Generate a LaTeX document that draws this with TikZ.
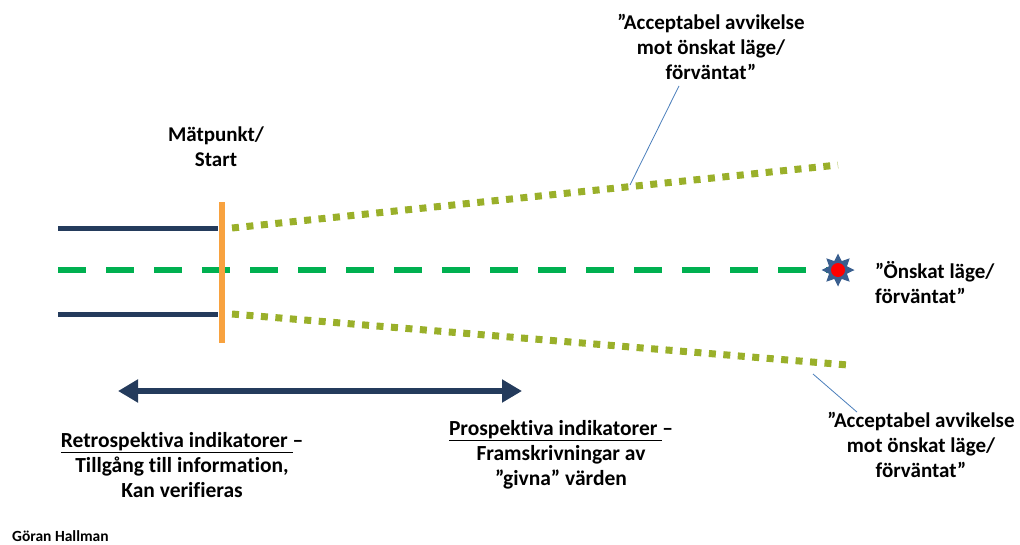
\documentclass[tikz,border=0pt]{standalone}
\usepackage{fontspec}
\setmainfont{Carlito}[Ligatures=NoCommon]
\usetikzlibrary{arrows.meta,shapes.geometric,calc}
\definecolor{navy}{HTML}{243B5C}
\definecolor{orng}{HTML}{F8A23F}
\definecolor{grn}{HTML}{00B050}
\definecolor{olive}{HTML}{9AB02A}
\definecolor{callout}{HTML}{4A7EBB}
\definecolor{starblue}{HTML}{3A5F8F}
\tikzset{
  lbl/.style={font=\fontsize{21}{25}\selectfont\bfseries, align=center, inner sep=0pt},
  lblb/.style={font=\fontsize{21.5}{25}\selectfont\bfseries, align=center, inner sep=0pt},
  solidline/.style={navy, line width=5pt},
  dotline/.style={olive, line width=7pt, dash pattern=on 7pt off 7.5pt},
  calloutline/.style={callout, line width=0.8pt},
}
\begin{document}
\begin{tikzpicture}[x=1pt,y=-1pt]
\useasboundingbox (0,0) rectangle (1020,544);
% solid lines
\coordinate (t0) at (58,228); \coordinate (t1) at (218,228);
\coordinate (b0) at (58,314); \coordinate (b1) at (218,314);
\draw[solidline] (t0) -- (t1);
\draw[solidline] (b0) -- (b1);
% green dashed
\coordinate (g0) at (58,270); \coordinate (g1) at (828,270);
\draw[grn, line width=6pt, dash pattern=on 28pt off 20pt] (g0) -- (g1);
% orange
\coordinate (o0) at (222,202); \coordinate (o1) at (222,343);
\draw[orng, line width=6pt] (o0) -- (o1);
% dotted
\coordinate (u0) at (232,228); \coordinate (u1) at (838,165);
\coordinate (l0) at (232,314); \coordinate (l1) at (848,365);
\draw[dotline] (u0) -- (u1);
\draw[dotline] (l0) -- (l1);
% star
\node[star, star points=8, star point ratio=1.7, minimum size=33pt, fill=starblue, inner sep=0pt] (star) at (838,270) {};
\node[circle, fill=red, minimum size=14pt, inner sep=0pt] (dot) at (838,270) {};
% double arrow
\coordinate (a0) at (118,391); \coordinate (a1) at (522,391);
\draw[navy, line width=6pt, {Triangle[length=20pt,width=22pt]}-{Triangle[length=20pt,width=22pt]}] (a0) -- (a1);
% texts
\node[lbl] (mat) at (216,147) {Mätpunkt/\\Start};
\node[lbl] (top) at (711,47) {”Acceptabel avvikelse\\mot önskat läge/\\förväntat”};
\node[lbl, anchor=west, align=left] (onsk) at (875,283) {”Önskat läge/\\förväntat”};
\node[lbl] (bot) at (921,445) {”Acceptabel avvikelse\\mot önskat läge/\\förväntat”};
\node[lblb] (retro) at (182,465) {\underline{Retrospektiva indikatorer }–\\Tillgång till information,\\Kan verifieras};
\node[lblb] (pros) at (561,455) {\underline{Prospektiva indikatorer }–\\Framskrivningar av\\”givna” värden};
\node[font=\fontsize{15.5}{18}\selectfont\bfseries, anchor=west, inner sep=0pt] (author) at (12,536) {Göran Hallman};
% callouts
\coordinate (c1) at (630,185);
\coordinate (c2) at (813,374);
\draw[calloutline] ($(top.south)+(-32,6)$) -- (c1);
\draw[calloutline] (c2) -- ($(bot.north)+(-64,0)$);
\end{tikzpicture}
\end{document}
